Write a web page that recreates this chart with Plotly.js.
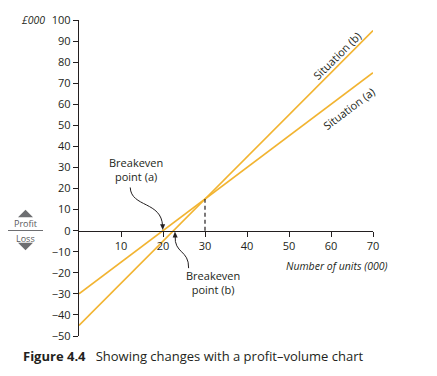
<!DOCTYPE html>
<html>
<head>
<meta charset="utf-8">
<script src="https://cdn.plot.ly/plotly-3.0.1.min.js"></script>
<style>html,body{margin:0;padding:0;background:#fff;}#chart{width:437px;height:376px;}</style>
</head>
<body>
<div id="chart"></div>
<script>
// Data
const units = [0, 70];                 // number of units (000)
const situationA = [-30, 75];          // £000 profit/loss, situation (a)
const situationB = [-45, 95];          // £000 profit/loss, situation (b)
const xTicks = [10, 20, 30, 40, 50, 60, 70];
const yTicks = [-50, -40, -30, -20, -10, 0, 10, 20, 30, 40, 50, 60, 70, 80, 90, 100];
const breakevenA = 20;
const breakevenB = 22.5;
const crossing = [30, 15];

const W = 437, H = 376, ML = 79, MR = 64, MT = 20, MB = 40;
const PW = W - ML - MR, PH = H - MT - MB;
const PX = p => (p - ML) / PW;
const PY = p => (H - MB - p) / PH;

const lineColor = '#F2B431';
const txt = '#231f20';
const font = 'Open Sans, Noto Sans, sans-serif';

const traces = [
  {x: units, y: situationA, mode: 'lines', line: {color: lineColor, width: 1.6}, hoverinfo: 'skip'},
  {x: units, y: situationB, mode: 'lines', line: {color: lineColor, width: 1.6}, hoverinfo: 'skip'}
];

function tri(cx, cy, w, h, up) {
  const x0 = PX(cx - w/2), x1 = PX(cx + w/2), xm = PX(cx);
  const yb = PY(up ? cy + h/2 : cy - h/2), yt = PY(up ? cy - h/2 : cy + h/2);
  return {type: 'path', xref: 'paper', yref: 'paper',
    path: `M ${x0} ${yb} L ${x1} ${yb} L ${xm} ${yt} Z`,
    fillcolor: '#6d6e71', line: {width: 0}};
}

const shapes = [
  {type: 'line', xref: 'x', yref: 'y', x0: crossing[0], x1: crossing[0], y0: 0, y1: crossing[1],
   line: {color: '#231f20', width: 1.2, dash: '4px,3px'}},
  // curved pointer (a)
  {type: 'path', xref: 'x', yref: 'y',
   path: `M 12.2 20.5 C 12.4 11 ${breakevenA - 0.3} 14 ${breakevenA - 0.1} 2.2`,
   line: {color: '#231f20', width: 1}},
  {type: 'path', xref: 'x', yref: 'y',
   path: `M ${breakevenA - 0.7} 3 L ${breakevenA + 0.5} 3 L ${breakevenA - 0.05} 0.3 Z`,
   fillcolor: '#231f20', line: {width: 0}},
  // curved pointer (b)
  {type: 'path', xref: 'x', yref: 'y',
   path: `M 26.1 -17.8 C 26.2 -9 ${breakevenB + 0.1} -11 ${breakevenB + 0.4} -2.4`,
   line: {color: '#231f20', width: 1}},
  {type: 'path', xref: 'x', yref: 'y',
   path: `M ${breakevenB - 0.2} -3.2 L ${breakevenB + 1.0} -3.2 L ${breakevenB + 0.35} -0.4 Z`,
   fillcolor: '#231f20', line: {width: 0}},
  // Profit / Loss indicator
  tri(25.5, 213.5, 15, 7.5, true),
  tri(25.5, 246.5, 15, 7.5, false),
  {type: 'line', xref: 'paper', yref: 'paper', x0: PX(8), x1: PX(43), y0: PY(230.5), y1: PY(230.5),
   line: {color: '#6d6e71', width: 1}}
];

const annotations = [
  {xref: 'paper', yref: 'paper', x: PX(47), y: PY(20), xanchor: 'right', yanchor: 'middle',
   text: '<i>£000</i>', showarrow: false, font: {family: font, size: 10.5, color: txt}},
  {xref: 'x', yref: 'y', x: 13.6, y: 28.8, text: 'Breakeven<br>point (a)', showarrow: false,
   font: {family: font, size: 11, color: txt}, align: 'center'},
  {xref: 'x', yref: 'y', x: 31.8, y: -24.8, text: 'Breakeven<br>point (b)', showarrow: false,
   font: {family: font, size: 11, color: txt}, align: 'center'},
  {xref: 'x', yref: 'y', x: 61.4, y: 83.2, text: 'Situation (b)', showarrow: false, textangle: -45,
   font: {family: font, size: 11, color: txt}},
  {xref: 'x', yref: 'y', x: 64.2, y: 58.2, text: 'Situation (a)', showarrow: false, textangle: -37,
   font: {family: font, size: 11, color: txt}},
  {xref: 'paper', yref: 'paper', x: PX(389), y: PY(266), xanchor: 'right', yanchor: 'middle',
   text: '<i>Number of units (000)</i>', showarrow: false, font: {family: font, size: 10.5, color: txt}},
  {xref: 'paper', yref: 'paper', x: PX(25.5), y: PY(223), xanchor: 'center', yanchor: 'middle',
   text: 'Profit', showarrow: false, font: {family: font, size: 9, color: '#58595b'}, borderpad: 0},
  {xref: 'paper', yref: 'paper', x: PX(25.5), y: PY(238), xanchor: 'center', yanchor: 'middle',
   text: 'Loss', showarrow: false, font: {family: font, size: 9, color: '#58595b'}, borderpad: 0},
  {xref: 'paper', yref: 'paper', x: PX(21), y: PY(356), xanchor: 'left', yanchor: 'middle',
   text: '<b>Figure 4.4</b>   Showing changes with a profit–volume chart', showarrow: false,
   font: {family: font, size: 13, color: txt}}
];

const layout = {
  width: W, height: H,
  margin: {l: ML, r: MR, t: MT, b: MB, pad: 0},
  paper_bgcolor: '#fff', plot_bgcolor: '#fff',
  showlegend: false,
  xaxis: {
    range: [0, 70], anchor: 'free', position: 50 / 150,
    showline: true, linecolor: '#231f20', linewidth: 1.3,
    showgrid: false, zeroline: false,
    ticks: 'outside', ticklen: 5, tickwidth: 1, tickcolor: '#231f20',
    tickvals: xTicks, ticktext: xTicks.map(String),
    tickfont: {family: font, size: 11, color: txt}, fixedrange: true
  },
  yaxis: {
    range: [-50, 100],
    showline: true, linecolor: '#231f20', linewidth: 1.3,
    showgrid: false, zeroline: false,
    ticks: 'outside', ticklen: 5, tickwidth: 1, tickcolor: '#231f20',
    tickvals: yTicks, ticktext: yTicks.map(v => v < 0 ? '\u2212' + Math.abs(v) : String(v)),
    tickfont: {family: font, size: 11, color: txt}, fixedrange: true
  },
  shapes: shapes,
  annotations: annotations
};

Plotly.newPlot('chart', traces, layout, {displayModeBar: false, staticPlot: true});
</script>
</body>
</html>
